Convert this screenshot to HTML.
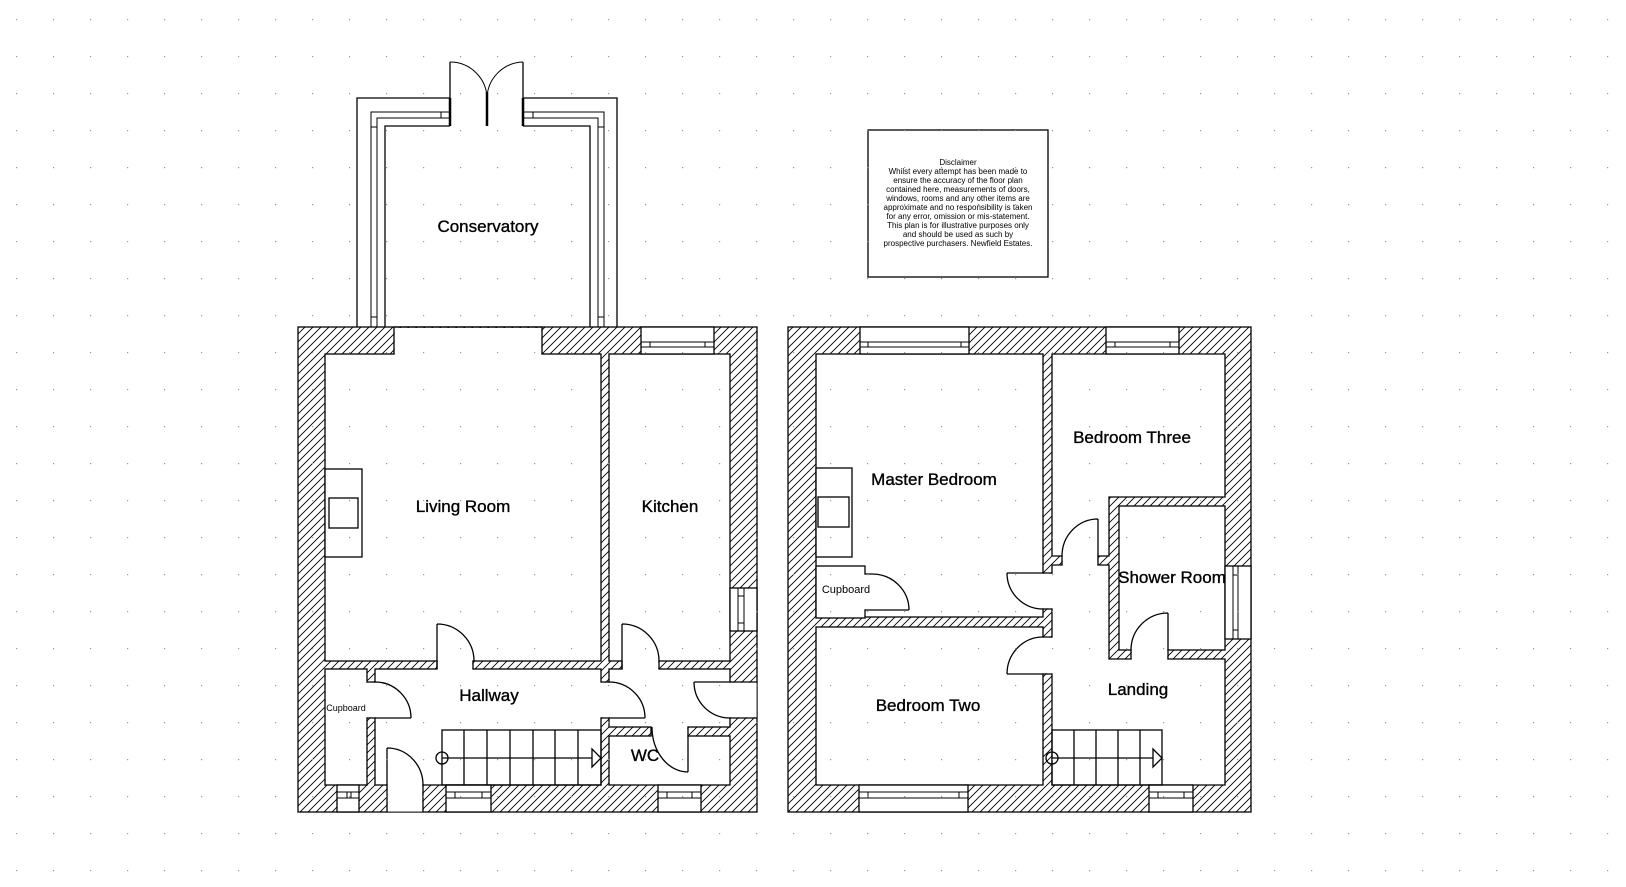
<!DOCTYPE html>
<html><head><meta charset="utf-8"><style>
html,body{margin:0;padding:0;background:#fff;}
svg{display:block;}
text{font-family:"Liberation Sans",Arial,sans-serif;fill:#000;}
</style></head><body>
<svg width="1626" height="887" viewBox="0 0 1626 887" xmlns="http://www.w3.org/2000/svg">
<defs>
<pattern id="h" patternUnits="userSpaceOnUse" width="8" height="8">
<rect width="8" height="8" fill="#fff"/>
<path d="M-1,9 L9,-1 M-1,1 L1,-1 M7,9 L9,7" stroke="#000" stroke-width="0.9"/>
</pattern>
<pattern id="d" patternUnits="userSpaceOnUse" x="16" y="19" width="37" height="37">
<rect x="0" y="0" width="1.2" height="1.2" fill="#999"/>
</pattern>
</defs>
<rect width="1626" height="887" fill="#fff"/>

<g stroke="#000" stroke-width="1.3" fill="none">
<path d="M357,327 V98 H450 M523,98 H617 V327" />
<path d="M371,327 V112 H450 M523,112 H604 V327" stroke-width="1"/>
<path d="M377,327 V118 H450 M523,118 H598 V327" stroke-width="1"/>
<path d="M385,327 V126 H450 M523,126 H590 V327" />
<path d="M371,127 H377 M371,317 H377 M441,112 V118 M533,112 V118 M598,127 H604 M598,317 H604" stroke-width="1"/>
<path d="M450,126 V62 M523,126 V62" />
<path d="M450,98 V126 M523,98 V126 M487,92 V126" stroke-width="2.5"/>
<path d="M450,62 A37,37 0 0 1 487,99 M523,62 A37,37 0 0 0 487,99" stroke-width="1"/>
</g>

<rect x="298" y="327" width="459" height="485" fill="url(#h)" stroke="#000" stroke-width="1.3"/>
<g fill="#fff" stroke="#000" stroke-width="1.3">
<rect x="325" y="354" width="276" height="307"/>
<rect x="609" y="354" width="121" height="307"/>
<rect x="325" y="669" width="42" height="116"/>
<rect x="375" y="669" width="226" height="116"/>
<rect x="609" y="669" width="121" height="58"/>
<rect x="609" y="736" width="121" height="49"/>
</g>
<g fill="#fff" stroke="none">
<rect x="394.7" y="328" width="146.6" height="27"/>
<rect x="437.7" y="660" width="34.6" height="10"/>
<rect x="622.7" y="660" width="35.6" height="10"/>
<rect x="366" y="682.7" width="10" height="34.6"/>
<rect x="600" y="682.7" width="10" height="34.6"/>
<rect x="651.7" y="726" width="35.6" height="11"/>
<rect x="729" y="682.7" width="27.6" height="34.6"/>
<rect x="387.7" y="784" width="34.6" height="27.6"/>
</g>
<g stroke="#000" stroke-width="1.3" fill="none">
<path d="M394,327 V354 M542,327 V354 M394,327 H542"/>
<path d="M437,661 V669 M473,661 V669 M622,661 V669 M659,661 V669"/>
<path d="M367,682 H375 M367,718 H375 M601,682 H609 M601,718 H609"/>
<path d="M651,727 V736 M688,727 V736 M730,682 H757 M730,718 H757 M387,785 V812 M423,785 V812"/>
<path d="M437,669 V624 M437,624 A37,37 0 0 1 474,661" />
<path d="M622,669 V624 M622,624 A37,37 0 0 1 659,661" />
<path d="M375,718 H411 M375,682 A36,36 0 0 1 411,718" />
<path d="M609,718 H645 M609,682 A36,36 0 0 1 645,718" />
<path d="M694,682 H730 M694,682 A36,36 0 0 0 730,718" />
<path d="M688,736 V772 M652,727 A36,45 0 0 0 688,772" />
<path d="M387,785 V748 M387,748 A36,37 0 0 1 423,785" />
<rect x="325" y="469" width="37" height="88" fill="#fff"/>
<rect x="329" y="498" width="29" height="30"/>
<rect x="641" y="327" width="73" height="27" fill="#fff"/>
<path d="M641,342 H714 M641,347 H714 M650,342 V347 M705,342 V347" stroke-width="1"/>
<rect x="730" y="588" width="27" height="43" fill="#fff"/>
<path d="M738,588 V631 M744,588 V631 M738,596 H744 M738,623 H744" stroke-width="1"/>
<rect x="337" y="785" width="22" height="27" fill="#fff"/>
<path d="M337,792 H359 M337,798 H359 M347,792 V798 M351,792 V798" stroke-width="1"/>
<rect x="446" y="785" width="45" height="27" fill="#fff"/>
<path d="M446,792 H491 M446,798 H491 M455,792 V798 M482,792 V798" stroke-width="1"/>
<rect x="658" y="785" width="43" height="27" fill="#fff"/>
<path d="M658,792 H701 M658,798 H701 M667,792 V798 M692,792 V798" stroke-width="1"/>
<rect x="442" y="730" width="159" height="55"/>
<path d="M464,730 V785 M487,730 V785 M510,730 V785 M533,730 V785 M555,730 V785 M578,730 V785"/>
<path d="M442,758 H592 M592,749 V767 L601,758 Z" fill="#fff"/>
<circle cx="442" cy="758" r="6" fill="none"/>
</g>

<rect x="788" y="327" width="463" height="485" fill="url(#h)" stroke="#000" stroke-width="1.3"/>
<g fill="#fff" stroke="#000" stroke-width="1.3">
<rect x="816" y="354" width="227" height="263"/>
<rect x="816" y="566" width="49" height="52"/>
<rect x="816" y="627" width="227" height="158"/>
<polygon points="1052,354 1225,354 1225,497 1109,497 1109,556 1052,556"/>
<polygon points="1052,565 1109,565 1109,659 1225,659 1225,785 1052,785"/>
<rect x="1119" y="506" width="106" height="144"/>
</g>
<g fill="#fff" stroke="none">
<rect x="864" y="574.7" width="10" height="34.6"/>
<rect x="1042" y="573.7" width="11" height="34.6"/>
<rect x="1042" y="637.7" width="11" height="35.6"/>
<rect x="1062.7" y="555" width="34.6" height="11"/>
<rect x="1131.7" y="649" width="35.6" height="11"/>
</g>
<g stroke="#000" stroke-width="1.3" fill="none">
<path d="M865,574 H872 M865,610 H872 M1043,573 H1052 M1043,609 H1052 M1043,637 H1052 M1043,674 H1052"/>
<path d="M1062,556 V565 M1098,556 V565 M1131,650 V659 M1168,650 V659"/>
<path d="M872,610 H909 M872,574 A37,36 0 0 1 909,610"/>
<path d="M1007,573 H1043 M1007,573 A36,36 0 0 0 1043,609"/>
<path d="M1007,674 H1043 M1007,674 A36,37 0 0 1 1043,637"/>
<path d="M1098,556 V519 M1062,556 A36,37 0 0 1 1098,519"/>
<path d="M1168,650 V613 M1131,650 A37,37 0 0 1 1168,613"/>
<rect x="816" y="468" width="36" height="89" fill="#fff"/>
<rect x="818" y="497" width="31" height="30"/>
<rect x="860" y="327" width="109" height="27" fill="#fff"/>
<path d="M860,342 H969 M860,347 H969 M868,342 V347 M961,342 V347" stroke-width="1"/>
<rect x="1106" y="327" width="73" height="27" fill="#fff"/>
<path d="M1106,342 H1179 M1106,347 H1179 M1115,342 V347 M1170,342 V347" stroke-width="1"/>
<rect x="859" y="785" width="109" height="27" fill="#fff"/>
<path d="M859,792 H968 M859,798 H968 M868,792 V798 M959,792 V798" stroke-width="1"/>
<rect x="1149" y="785" width="44" height="27" fill="#fff"/>
<path d="M1149,792 H1193 M1149,798 H1193 M1158,792 V798 M1184,792 V798" stroke-width="1"/>
<rect x="1225" y="566" width="26" height="73" fill="#fff"/>
<path d="M1233,566 V639 M1238,566 V639 M1233,575 H1238 M1233,630 H1238" stroke-width="1"/>
<rect x="1052" y="730" width="110" height="55"/>
<path d="M1074,730 V785 M1096,730 V785 M1118,730 V785 M1140,730 V785"/>
<path d="M1052,758 H1153 M1153,749 V767 L1162,758 Z" fill="#fff"/>
<circle cx="1052" cy="758" r="6" fill="none"/>
</g>

<rect x="868" y="130" width="180" height="147" fill="#fff" stroke="#000" stroke-width="1.3"/>
<g font-size="8" text-anchor="middle">
<text x="958" y="165">Disclaimer</text>
<text x="958" y="174">Whilst every attempt has been made to</text>
<text x="958" y="183">ensure the accuracy of the floor plan</text>
<text x="958" y="192">contained here, measurements of doors,</text>
<text x="958" y="201">windows, rooms and any other items are</text>
<text x="958" y="210">approximate and no responsibility is taken</text>
<text x="958" y="219">for any error, omission or mis-statement.</text>
<text x="958" y="228">This plan is for illustrative purposes only</text>
<text x="958" y="237">and should be used as such by</text>
<text x="958" y="246">prospective purchasers. Newfield Estates.</text>
</g>

<g font-size="17" text-anchor="middle" stroke="#000" stroke-width="0.35">
<text x="488" y="232">Conservatory</text>
<text x="463" y="512">Living Room</text>
<text x="670" y="512">Kitchen</text>
<text x="489" y="701">Hallway</text>
<text x="645" y="761">WC</text>
<text x="934" y="485">Master Bedroom</text>
<text x="1132" y="443">Bedroom Three</text>
<text x="1172" y="583">Shower Room</text>
<text x="1138" y="695">Landing</text>
<text x="928" y="711">Bedroom Two</text>
</g>
<text x="346" y="711" font-size="9" text-anchor="middle">Cupboard</text>
<text x="846" y="593" font-size="11" text-anchor="middle">Cupboard</text>

<rect width="1626" height="887" fill="url(#d)" pointer-events="none"/>
</svg>
</body></html>
